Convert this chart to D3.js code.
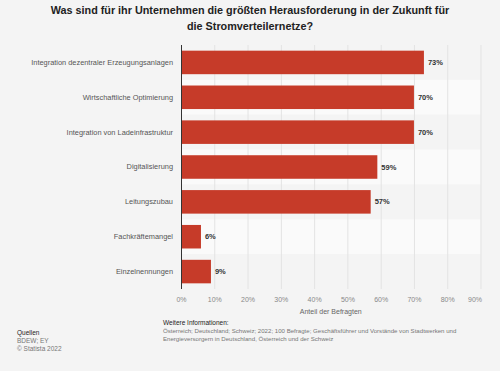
<!DOCTYPE html>
<html lang="de">

<head>
    <meta charset="UTF-8">
    <title>Stromverteilernetze</title>
    <style>
        body {
            margin: 0;
            background: #f4f4f4;
            font-family: "Liberation Sans", Arial, sans-serif;
        }

        .grid line {
            stroke: #e3e3e3;
            stroke-width: 1px;
        }
    </style>
    <script src="https://d3js.org/d3.v7.min.js"></script>
</head>

<body>
    <div id="chart"></div>

    <script>
        const categories = [
            "Integration dezentraler Erzeugungsanlagen",
            "Wirtschaftliche Optimierung",
            "Integration von Ladeinfrastruktur",
            "Digitalisierung",
            "Leitungszubau",
            "Fachkräftemangel",
            "Einzelnennungen"
        ];
        const values = [73, 70, 70, 59, 57, 6, 9];
        const xTicks = [0, 10, 20, 30, 40, 50, 60, 70, 80, 90];

        const titleLines = [
            "Was sind für ihr Unternehmen die größten Herausforderung in der Zukunft für",
            "die Stromverteilernetze?"
        ];
        const sourceLines = ["Quellen", "BDEW; EY", "© Statista 2022"];
        const infoLines = [
            "Weitere Informationen:",
            "Österreich; Deutschland; Schweiz; 2022; 100 Befragte; Geschäftsführer und Vorstände von Stadtwerken und",
            "Energieversorgern in Deutschland, Österreich und der Schweiz"
        ];

        const W = 500, H = 371;
        const margin = { top: 45, left: 181 };
        const innerW = 480.5 - margin.left;
        const innerH = 244;

        const svg = d3.select("#chart").append("svg")
            .attr("width", W)
            .attr("height", H)
            .style("display", "block");

        svg.append("rect").attr("width", W).attr("height", H).attr("fill", "#f4f4f4");

        // title
        svg.append("g").selectAll("text")
            .data(titleLines)
            .join("text")
            .attr("x", W / 2)
            .attr("y", (d, i) => 14 + i * 16)
            .attr("text-anchor", "middle")
            .attr("font-size", "10.8px")
            .attr("font-weight", "bold")
            .attr("fill", "#222")
            .text(d => d);

        const x = d3.scaleLinear().domain([0, 90]).range([0, innerW]);
        const y = d3.scaleBand().domain(categories).range([0, innerH]).paddingInner(0.325).paddingOuter(0.1625);
        const band = d3.scaleBand().domain(categories).range([0, innerH]);

        const g = svg.append("g").attr("transform", `translate(${margin.left},${margin.top})`);

        // alternating row bands
        g.append("g").selectAll("rect")
            .data(categories)
            .join("rect")
            .attr("x", 0)
            .attr("y", d => band(d))
            .attr("width", innerW)
            .attr("height", band.bandwidth())
            .attr("fill", (d, i) => i % 2 ? "#fafafa" : "#f4f4f4");

        // vertical grid
        g.append("g").attr("class", "grid")
            .selectAll("line")
            .data(xTicks.slice(1))
            .join("line")
            .attr("x1", d => x(d) + 0.5).attr("x2", d => x(d) + 0.5)
            .attr("y1", 0).attr("y2", innerH);

        // bars
        g.append("g").selectAll("rect")
            .data(values)
            .join("rect")
            .attr("x", 0)
            .attr("y", (d, i) => y(categories[i]))
            .attr("width", d => x(d))
            .attr("height", y.bandwidth())
            .attr("fill", "#c63b29");

        // value labels
        g.append("g").selectAll("text")
            .data(values)
            .join("text")
            .attr("x", d => x(d) + 4)
            .attr("y", (d, i) => y(categories[i]) + y.bandwidth() / 2)
            .attr("dy", "0.35em")
            .attr("font-size", "7.5px")
            .attr("font-weight", "bold")
            .attr("fill", "#333")
            .text(d => d + "%");

        // category axis
        const yAxis = g.append("g")
            .call(d3.axisLeft(band).tickSize(0).tickPadding(8));
        yAxis.select(".domain").attr("stroke", "#333").attr("d", "M0.5,0V" + innerH);
        yAxis.selectAll("text")
            .attr("font-size", "7.4px")
            .attr("font-family", "Liberation Sans, Arial, sans-serif")
            .attr("fill", "#555");

        // value axis
        const xAxis = g.append("g")
            .attr("transform", `translate(0,${innerH})`)
            .call(d3.axisBottom(x).tickValues(xTicks).tickFormat(d => d + "%").tickSize(0).tickPadding(8));
        xAxis.select(".domain").remove();
        xAxis.selectAll("text")
            .attr("font-size", "7px")
            .attr("font-family", "Liberation Sans, Arial, sans-serif")
            .attr("fill", "#888")
            .attr("dx", d => d === 90 ? -6 : 0);

        svg.append("text")
            .attr("x", margin.left + x(45))
            .attr("y", 314)
            .attr("text-anchor", "middle")
            .attr("font-size", "7px")
            .attr("fill", "#666")
            .text("Anteil der Befragten");

        // footer
        svg.append("g").selectAll("text")
            .data(sourceLines)
            .join("text")
            .attr("x", 17)
            .attr("y", (d, i) => 335 + i * 8)
            .attr("font-size", "6.5px")
            .attr("fill", (d, i) => i ? "#777" : "#222")
            .text(d => d);

        svg.append("g").selectAll("text")
            .data(infoLines)
            .join("text")
            .attr("x", 163)
            .attr("y", (d, i) => 325 + i * 8)
            .attr("font-size", (d, i) => i ? "6.1px" : "6.5px")
            .attr("fill", (d, i) => i ? "#777" : "#222")
            .text(d => d);
    </script>
</body>

</html>
